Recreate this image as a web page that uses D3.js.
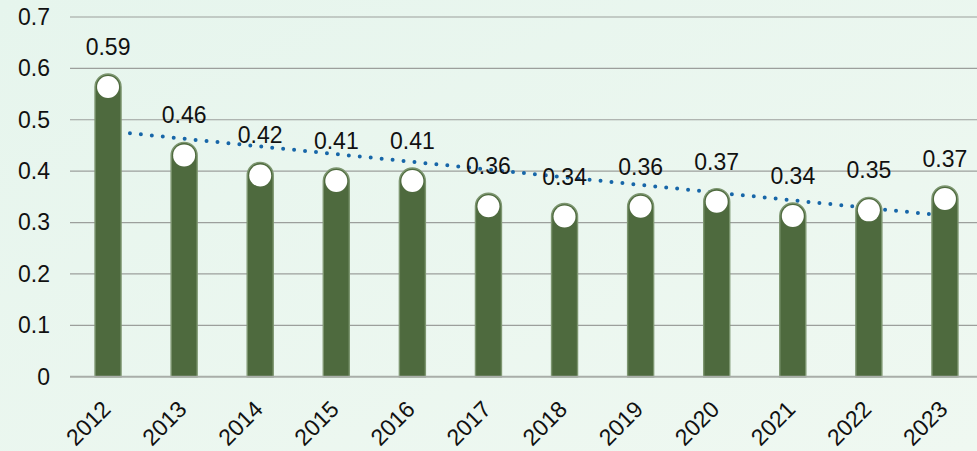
<!DOCTYPE html>
<html>
<head>
<meta charset="utf-8">
<script src="https://cdn.jsdelivr.net/npm/d3@7"></script>
<style>
  html, body { margin: 0; padding: 0; }
  body { width: 977px; height: 451px; overflow: hidden; }
  text { font-family: "Liberation Sans", Arial, Helvetica, sans-serif; }
</style>
</head>
<body>
<script>
// Data
const years = ['2012', '2013', '2014', '2015', '2016', '2017', '2018', '2019', '2020', '2021', '2022', '2023'];
const values = [0.589, 0.456, 0.417, 0.406, 0.406, 0.357, 0.337, 0.356, 0.366, 0.338, 0.349, 0.371];
const yTicks = [0, 0.1, 0.2, 0.3, 0.4, 0.5, 0.6, 0.7];

const width = 977, height = 451;
const margin = { top: 17, right: -6, bottom: 74, left: 70 };
const fontSize = 23;

const svg = d3.select('body')
    .append('svg')
    .attr('width', width)
    .attr('height', height);

// background gradient
const defs = svg.append('defs');
const grad = defs.append('linearGradient')
    .attr('id', 'bg')
    .attr('x1', '0%').attr('y1', '0%')
    .attr('x2', '100%').attr('y2', '100%');
grad.append('stop').attr('offset', '0%').attr('stop-color', '#e6f5ed');
grad.append('stop').attr('offset', '100%').attr('stop-color', '#eff8f1');

svg.append('rect')
    .attr('width', width)
    .attr('height', height)
    .attr('fill', 'url(#bg)');

// scales
const x = d3.scaleBand()
    .domain(years)
    .range([margin.left, width - margin.right])
    .paddingInner(0.658)
    .paddingOuter(0.329);

const y = d3.scaleLinear()
    .domain([0, 0.7])
    .range([height - margin.bottom - 0.3, margin.top]);

// gridlines
svg.append('g')
    .selectAll('line')
    .data(yTicks.filter(d => d > 0))
    .join('line')
    .attr('x1', margin.left)
    .attr('x2', width)
    .attr('y1', d => y(d))
    .attr('y2', d => y(d))
    .attr('stroke', '#9c9f9c')
    .attr('stroke-width', 1.2);

// y axis labels
const yAxis = svg.append('g')
    .attr('transform', `translate(${margin.left},0)`)
    .call(d3.axisLeft(y).tickValues(yTicks).tickFormat(d3.format('~g')).tickSize(0).tickPadding(20));
yAxis.select('.domain').remove();
yAxis.selectAll('text')
    .attr('font-size', fontSize)
    .attr('fill', '#111')
    .attr('font-family', '"Liberation Sans", Arial, sans-serif');

// trend line (least squares over the values)
const xi = values.map((d, i) => i);
const mx = d3.mean(xi), my = d3.mean(values);
const slope = d3.sum(xi, i => (i - mx) * (values[i] - my)) / d3.sum(xi, i => (i - mx) * (i - mx));
const intercept = my - slope * mx;
const center = d => x(d) + x.bandwidth() / 2;

svg.append('path')
    .datum(years)
    .attr('fill', 'none')
    .attr('stroke', '#1766a8')
    .attr('stroke-width', 4)
    .attr('stroke-linecap', 'round')
    .attr('stroke-dasharray', '0 11')
    .attr('d', d3.line()
        .x(d => center(d))
        .y((d, i) => y(intercept + slope * i)));

// bars with rounded tops
const r = x.bandwidth() / 2;
const barPath = (d, i) => {
    const x0 = x(d), x1 = x0 + x.bandwidth();
    const top = y(values[i]), base = y(0);
    return `M${x0},${base} L${x0},${top + r} A${r},${r} 0 0 1 ${x1},${top + r} L${x1},${base} Z`;
};

svg.append('g')
    .selectAll('path')
    .data(years)
    .join('path')
    .attr('d', barPath)
    .attr('fill', '#4e6a3e')
    .attr('stroke', '#7d9670')
    .attr('stroke-width', 1.4);

// white circles at bar tops
svg.append('g')
    .selectAll('circle')
    .data(years)
    .join('circle')
    .attr('cx', d => center(d))
    .attr('cy', (d, i) => y(values[i]) + r)
    .attr('r', 11)
    .attr('fill', '#ffffff');

// baseline
svg.append('line')
    .attr('x1', margin.left)
    .attr('x2', width)
    .attr('y1', y(0))
    .attr('y2', y(0))
    .attr('stroke', '#a9aea9')
    .attr('stroke-width', 2);

// value labels
svg.append('g')
    .selectAll('text')
    .data(years)
    .join('text')
    .attr('x', d => center(d))
    .attr('y', (d, i) => y(values[i]) - 19)
    .attr('text-anchor', 'middle')
    .attr('font-size', fontSize)
    .attr('fill', '#111')
    .text((d, i) => d3.format('.2f')(values[i]));

// x axis labels, rotated
svg.append('g')
    .selectAll('text')
    .data(years)
    .join('text')
    .attr('transform', d => `translate(${center(d) + 4},${y(0) + 34}) rotate(-45)`)
    .attr('text-anchor', 'end')
    .attr('font-size', fontSize)
    .attr('fill', '#111')
    .text(d => d);
</script>
</body>
</html>
